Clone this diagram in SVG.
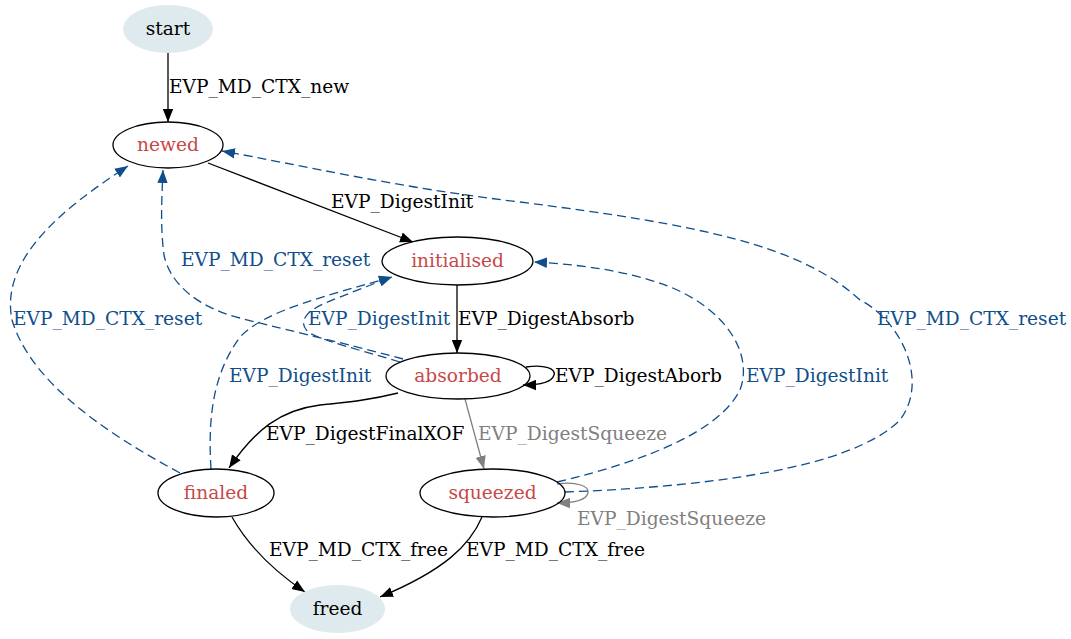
<svg xmlns="http://www.w3.org/2000/svg" width="1071" height="639" viewBox="0 0 1071 639">
<defs>
<style>
text{font-family:"DejaVu Serif","Liberation Serif",serif;font-size:18.6px}
.n ellipse{fill:none;stroke:#000;stroke-width:1.3}
.n.term ellipse{fill:#dfeaee;stroke:none}
.n text{fill:#c84848;text-anchor:middle}
.n.term text{fill:#000}
.e{fill:none;stroke-width:1.3}
.k{stroke:#000}
.g{stroke:#808080}
.b{stroke:#104e8b;stroke-dasharray:9,5}
.lk{fill:#000}
.lg{fill:#808080}
.lb{fill:#104e8b}
</style>
<marker id="ak" markerUnits="userSpaceOnUse" viewBox="0 0 13 11" refX="13" refY="5.5" markerWidth="13" markerHeight="11" orient="auto"><path d="M0,0.3L13,5.5L0,10.7z" fill="#000"/></marker>
<marker id="ag" markerUnits="userSpaceOnUse" viewBox="0 0 13 11" refX="13" refY="5.5" markerWidth="13" markerHeight="11" orient="auto"><path d="M0,0.3L13,5.5L0,10.7z" fill="#808080"/></marker>
<marker id="ab" markerUnits="userSpaceOnUse" viewBox="0 0 13 11" refX="13" refY="5.5" markerWidth="13" markerHeight="11" orient="auto"><path d="M0,0.3L13,5.5L0,10.7z" fill="#104e8b"/></marker>
</defs>
<rect width="1071" height="639" fill="#fff"/>
<g id="connectors">
<path class="e k" marker-end="url(#ak)" d="M168,53L168,122"/>
<path class="e k" marker-end="url(#ak)" d="M208,163L413,242"/>
<path class="e k" marker-end="url(#ak)" d="M457,285L457,353"/>
<path class="e k" marker-end="url(#ak)" d="M526,367C545,364 556,369 554,375C552,382 540,385 523,385"/>
<path class="e k" marker-end="url(#ak)" d="M398,393C370,400 350,402 320,405C280,410 255,430 229,468"/>
<path class="e g" marker-end="url(#ag)" d="M465,399L484,469"/>
<path class="e g" marker-end="url(#ag)" d="M557,484C575,481 590,486 588,493C586,500 575,503 557,503"/>
<path class="e k" marker-end="url(#ak)" d="M232,517C245,540 265,565 305,592"/>
<path class="e k" marker-end="url(#ak)" d="M482,517C470,545 445,570 380,597"/>
<path class="e b" marker-end="url(#ab)" d="M403,359C340,342 270,326 240,318C200,308 170,285 164,255C160,225 162,195 163,170"/>
<path class="e b" marker-end="url(#ab)" d="M180,473C100,430 30,380 12,320C0,260 60,210 128,166"/>
<path class="e b" marker-end="url(#ab)" d="M211,469C208,420 212,375 240,337C265,310 330,295 392,277"/>
<path class="e b" marker-end="url(#ab)" d="M400,362C360,350 320,340 308,332C298,322 305,312 325,303C345,295 370,285 392,277"/>
<path class="e b" marker-end="url(#ab)" d="M557,482C650,460 720,430 740,390C755,350 720,300 650,280C610,268 570,264 534,262"/>
<path class="e b" marker-end="url(#ab)" d="M565,492C700,487 850,470 900,420C930,380 900,320 860,300C800,245 700,225 520,202C400,188 300,165 222,151"/>
<text class="lk" x="169" y="93">EVP_MD_CTX_new</text>
<text class="lk" x="331" y="208">EVP_DigestInit</text>
<text class="lb" x="181" y="266">EVP_MD_CTX_reset</text>
<text class="lk" x="458" y="325">EVP_DigestAbsorb</text>
<text class="lb" x="308" y="325">EVP_DigestInit</text>
<text class="lb" x="13" y="325">EVP_MD_CTX_reset</text>
<text class="lb" x="877" y="325">EVP_MD_CTX_reset</text>
<text class="lb" x="229" y="382">EVP_DigestInit</text>
<text class="lk" x="555" y="382">EVP_DigestAborb</text>
<text class="lb" x="746" y="382">EVP_DigestInit</text>
<text class="lk" x="266" y="440">EVP_DigestFinalXOF</text>
<text class="lg" x="478" y="440">EVP_DigestSqueeze</text>
<text class="lg" x="577" y="525">EVP_DigestSqueeze</text>
<text class="lk" x="269" y="556">EVP_MD_CTX_free</text>
<text class="lk" x="466" y="556">EVP_MD_CTX_free</text>
</g>
<g id="start" class="n term"><ellipse cx="168" cy="29" rx="45" ry="24"/><text x="168" y="35">start</text></g>
<g id="newed" class="n"><ellipse cx="168" cy="145" rx="55" ry="23"/><text x="168" y="151">newed</text></g>
<g id="initialised" class="n"><ellipse cx="457.5" cy="261" rx="75.5" ry="24"/><text x="457.5" y="267">initialised</text></g>
<g id="absorbed" class="n"><ellipse cx="458" cy="376" rx="72" ry="23"/><text x="458" y="382">absorbed</text></g>
<g id="finaled" class="n"><ellipse cx="216" cy="493" rx="58" ry="24"/><text x="216" y="499">finaled</text></g>
<g id="squeezed" class="n"><ellipse cx="492.5" cy="493" rx="72.5" ry="24"/><text x="492.5" y="499">squeezed</text></g>
<g id="freed" class="n term"><ellipse cx="337.5" cy="609" rx="47.5" ry="24"/><text x="337.5" y="615">freed</text></g>
</svg>
